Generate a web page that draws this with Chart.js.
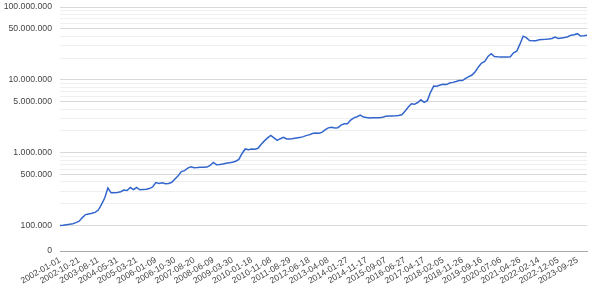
<!DOCTYPE html>
<html>
<head>
<meta charset="utf-8">
<script src="https://cdn.jsdelivr.net/npm/chart.js@4"></script>
<style>
  html, body { margin: 0; padding: 0; background: #fff; }
  #wrap { width: 595px; height: 289px; }
</style>
</head>
<body>
<div id="wrap"><canvas id="chart"></canvas></div>
<script>
// tick dates shown on the x axis (one every 42 weeks)
const tickDates = [
  "2002-01-01", "2002-10-21", "2003-08-11", "2004-05-31", "2005-03-21", "2006-01-09",
  "2006-10-30", "2007-08-20", "2008-06-09", "2009-03-30", "2010-01-18", "2010-11-08",
  "2011-08-29", "2012-06-18", "2013-04-08", "2014-01-27", "2014-11-17", "2015-09-07",
  "2016-06-27", "2017-04-17", "2018-02-05", "2018-11-26", "2019-09-16", "2020-07-06",
  "2021-04-26", "2022-02-14", "2022-12-05", "2023-09-25",
];

// samples every 7 weeks
const values = [
  101000, 102000, 104000, 105000, 107000, 111000, 116000, 130000, 143000, 146000,
  149000, 153000, 165000, 197000, 241000, 331000, 284000, 284000, 287000, 294000,
  310000, 305000, 336000, 315000, 336000, 313000, 315000, 317000, 325000, 341000,
  393000, 381000, 390000, 378000, 381000, 396000, 440000, 488000, 554000, 571000,
  618000, 648000, 628000, 632000, 638000, 636000, 640000, 673000, 740000, 691000,
  695000, 706000, 722000, 734000, 745000, 769000, 814000, 984000, 1134000, 1110000,
  1128000, 1124000, 1160000, 1317000, 1462000, 1607000, 1739000, 1607000, 1485000, 1567000,
  1633000, 1557000, 1547000, 1582000, 1607000, 1633000, 1659000, 1728000, 1767000, 1841000,
  1871000, 1860000, 1912000, 2070000, 2205000, 2240000, 2198000, 2219000, 2402000, 2503000,
  2519000, 2822000, 3026000, 3133000, 3296000, 3103000, 3054000, 3016000, 3035000, 3045000,
  3045000, 3093000, 3172000, 3202000, 3200000, 3222000, 3253000, 3327000, 3716000, 4217000,
  4712000, 4638000, 4909000, 5346000, 4940000, 5212000, 6776000, 8246000, 8194000, 8511000,
  8730000, 8646000, 9066000, 9268000, 9506000, 9842000, 9800000, 10550000, 11140000, 11680000,
  12960000, 15090000, 17070000, 17960000, 21030000, 22900000, 20960000, 20770000, 20700000, 20700000,
  20700000, 20800000, 23560000, 24800000, 30940000, 39840000, 37990000, 34660000, 34340000, 34600000,
  35550000, 35890000, 36120000, 36460000, 37050000, 38850000, 37050000, 37630000, 38230000, 39080000,
  41110000, 41770000, 43110000, 39960000, 40350000, 41110000,
];
const samplesPerTick = 6;

// log axis: bottom of the axis is shown as "0"
const yFloor = 45300;
const yCeil = 100000000;
const yGridValues = [
  yFloor,
  100000, 200000, 300000, 400000, 500000, 600000, 700000, 800000, 900000,
  1000000, 2000000, 3000000, 4000000, 5000000, 6000000, 7000000, 8000000, 9000000,
  10000000, 20000000, 30000000, 40000000, 50000000, 60000000, 70000000, 80000000, 90000000,
  100000000,
];
const yLabelValues = [100000, 500000, 1000000, 5000000, 10000000, 50000000, 100000000];

const categories = values.map((_, i) =>
  i % samplesPerTick === 0 && tickDates[i / samplesPerTick] ? tickDates[i / samplesPerTick] : ""
);

function dotted(v) {
  return String(Math.round(v)).replace(/\B(?=(\d{3})+(?!\d))/g, ".");
}

const FONT = { family: "'Liberation Sans', Arial, sans-serif", size: 8.7 };

new Chart(document.getElementById("chart"), {
  type: "line",
  data: {
    labels: categories,
    datasets: [{
      data: values,
      borderColor: "#3366cc",
      borderWidth: 1.5,
      pointRadius: 0,
      tension: 0,
      fill: false,
    }],
  },
  options: {
    responsive: true,
    maintainAspectRatio: false,
    animation: false,
    layout: { padding: { left: 0, right: 8, top: 7, bottom: 0 } },
    plugins: { legend: { display: false }, tooltip: { enabled: false } },
    scales: {
      x: {
        grid: { display: false, drawTicks: false },
        border: { color: "#aaaaaa" },
        ticks: {
          autoSkip: false,
          maxRotation: 30,
          minRotation: 30,
          padding: 4,
          color: "#444",
          font: FONT,
        },
        afterFit: (scale) => {
          scale.height = 38;
          scale.paddingRight = 0;
          scale.paddingLeft = 0;
        },
      },
      y: {
        type: "logarithmic",
        min: yFloor,
        max: yCeil,
        border: { display: false },
        grid: {
          drawTicks: false,
          color: (ctx) => {
            const v = ctx.tick && ctx.tick.value;
            if (v === yFloor) return "#aaaaaa";
            return yLabelValues.includes(v) ? "#d9d9d9" : "#efefef";
          },
        },
        ticks: {
          autoSkip: false,
          padding: 8,
          color: "#444",
          font: FONT,
          callback: (v) => {
            if (v === yFloor) return "0";
            return yLabelValues.includes(v) ? dotted(v) : "";
          },
        },
        afterBuildTicks: (scale) => {
          scale.ticks = yGridValues.map((v) => ({ value: v }));
        },
        afterFit: (scale) => {
          scale.width = 60;
          scale.paddingTop = 0;
          scale.paddingBottom = 0;
        },
      },
    },
  },
});
</script>
</body>
</html>
